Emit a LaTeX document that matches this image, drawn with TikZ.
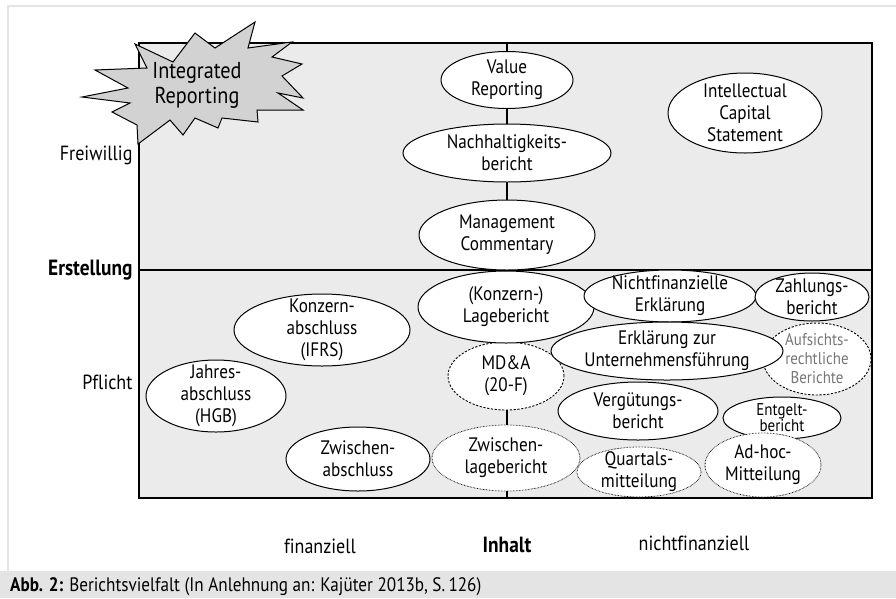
\documentclass[tikz,border=0pt]{standalone}
\usepackage{fontspec}
\setmainfont{PT Sans}[FakeStretch=0.88,Ligatures=NoCommon]
\usepackage{xcolor}
\usepackage{tikz}
\usetikzlibrary{shapes.geometric}
\definecolor{boxgray}{HTML}{EBEBEB}
\definecolor{stargray}{HTML}{D2D2D2}
\definecolor{framegray}{HTML}{E4E4E4}
\definecolor{txtgray}{HTML}{777777}
\tikzset{
  bericht/.style={ellipse,draw,fill=white,line width=1pt,inner sep=0pt},
  gestrichelt/.style={bericht,dash pattern=on 2.2pt off 1.6pt,line width=0.9pt},
  gepunktet/.style={bericht,dash pattern=on 0.6pt off 0.9pt,line width=0.8pt},
  btext/.style={align=center,font=\fontsize{19.5}{22}\selectfont,inner sep=0pt},
  achse/.style={font=\fontsize{20.5}{22}\selectfont},
  fett/.style={font=\fontsize{22}{24}\selectfont\bfseries}
}
\newcommand{\bub}[6][bericht]{%
  \node[#1,minimum width=#4,minimum height=#5,
        label={[btext]center:#6}] (#2) at #3 {};}
\begin{document}
\begin{tikzpicture}[x=1pt,y=-1pt]
\useasboundingbox (0,0) rectangle (896,598);
% Rahmen und Bildunterschrift
\draw[framegray,line width=2.5pt](8,571)--(8,6)--(896,6);
\fill[framegray](0,571) rectangle (896,598);
\node[anchor=west,font=\fontsize{19.5}{20}\selectfont,inner sep=0pt] (cap) at (10,587)
  {\textbf{Abb. 2:} Berichtsvielfalt (In Anlehnung an: Kajüter 2013b, S.\,126)};
% Matrix
\draw[fill=boxgray,line width=1.3pt](139,43) rectangle (872,498);
\coordinate (ol) at (139,270);
\coordinate (or) at (872,270);
\coordinate (mo) at (507,43);
\coordinate (mu) at (507,498);
\draw[line width=1.1pt](ol)--(or) (mo)--(mu);
\node[achse,anchor=east] (frei) at (136,155) {Freiwillig};
\node[fett,anchor=east] (erst) at (136,270) {Erstellung};
\node[achse,anchor=east] (pfl) at (136,382) {Pflicht};
\node[achse] (fin) at (320,546) {finanziell};
\node[fett] (inh) at (507,545) {Inhalt};
\node[achse] (nfin) at (694,543) {nichtfinanziell};
% Integrated Reporting
\draw[fill=stargray,line width=1pt](135,44)--(173,62)--(195,33)--(215,48)--(255,22)--(248,48)
  --(292,42)--(272,57)--(302,64)--(282,76)--(303,98)--(278,93)--(303,110)--(257,110)
  --(258,122)--(222,118)--(218,128)--(195,118)--(183,135)--(170,120)--(138,144)--(137,125)
  --(112,112)--(130,103)--(82,97)--(128,88)--(95,70)--(147,68)--cycle;
\node[btext,font=\fontsize{23}{25}\selectfont] (ir) at (197,85) {Integrated\\Reporting};
% freiwillig
\bub{value}{(507,80)}{132}{57}{Value\\Reporting}
\bub{nach}{(507,153)}{208}{58}{Nachhaltigkeits-\\bericht}
\bub{mgmt}{(507,235)}{176}{70}{Management\\Commentary}
\bub{icap}{(745,113)}{154}{80}{Intellectual\\Capital\\Statement}
% Pflicht
\bub{konz}{(322,330)}{176}{72}{Konzern-\\abschluss\\(IFRS)}
\bub{jahr}{(216,396)}{140}{72}{Jahres-\\abschluss\\(HGB)}
\bub[gestrichelt]{mda}{(506,376)}{116}{68}{MD\&A\\(20-F)}
\bub{lage}{(506,307)}{176}{72}{(Konzern-)\\Lagebericht}
\bub{nfe}{(670,296)}{172}{52}{Nichtfinanzielle\\Erklärung}
\bub{zahl}{(812,297)}{114}{48}{Zahlungs-\\bericht}
\node[gestrichelt,minimum width=108,minimum height=72,
  label={[btext,font=\fontsize{17}{19}\selectfont,text=txtgray]center:Aufsichts-\\rechtliche\\Berichte}] (aufs) at (817,359) {};
\bub{euf}{(667,351)}{232}{58}{Erklärung zur\\Unternehmensführung}
\bub{verg}{(638,411)}{160}{58}{Vergütungs-\\bericht}
\node[bericht,minimum width=118,minimum height=42,
  label={[btext,font=\fontsize{17}{16}\selectfont]center:Entgelt-\\bericht}] (entg) at (782,418) {};
\bub{zwa}{(358,459)}{144}{64}{Zwischen-\\abschluss}
\bub[gepunktet]{zwl}{(506,458)}{148}{66}{Zwischen-\\lagebericht}
\bub[gepunktet]{quart}{(639,472)}{124}{50}{Quartals-\\mitteilung}
\bub[gepunktet]{adhoc}{(763,465)}{116}{64}{Ad-hoc-\\Mitteilung}
\end{tikzpicture}
\end{document}
